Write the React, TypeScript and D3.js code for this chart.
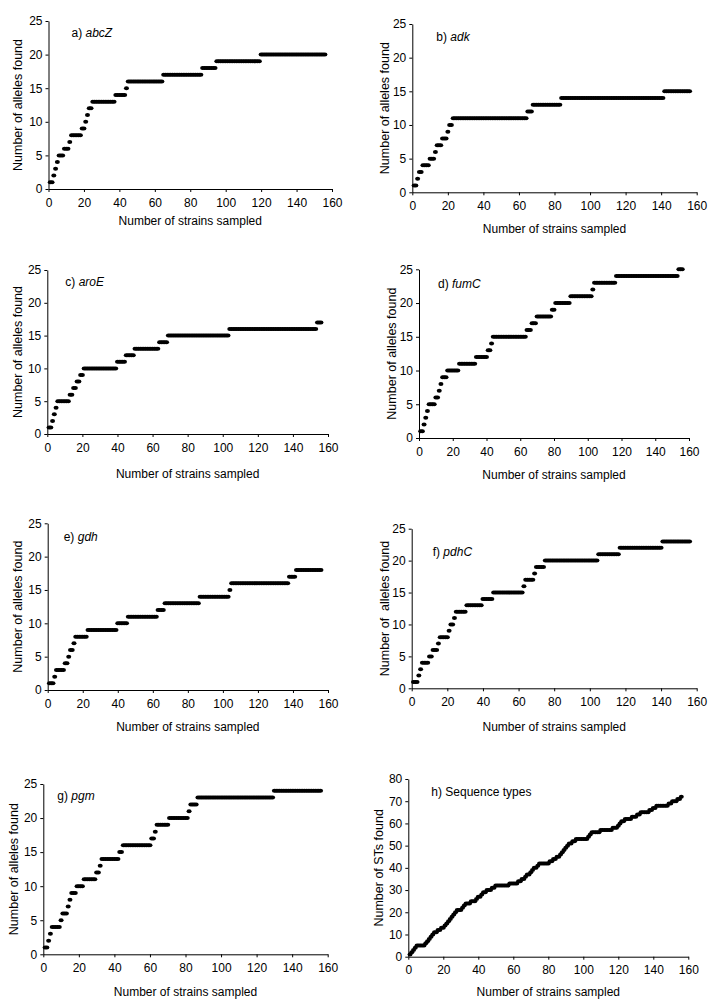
import React, { useEffect, useRef } from "react";
import * as d3 from "d3";

const W = 715, H = 1008;
const nStrains = 156;
const strainTicks = [0, 20, 40, 60, 80, 100, 120, 140, 160];
const alleleTicks = [0, 5, 10, 15, 20, 25];
const stTicks = [0, 10, 20, 30, 40, 50, 60, 70, 80];

// strain number at which allele (or ST) no. 1, 2, 3 ... was first found
const abcZ = [1, 3, 4, 5, 6, 9, 12, 13, 19, 21, 22, 23, 25, 38, 44, 45, 65, 87, 95, 120];
const adk = [1, 3, 4, 6, 10, 13, 14, 17, 20, 21, 23, 65, 68, 84, 142];
const aroE = [1, 3, 4, 5, 6, 13, 15, 17, 19, 21, 40, 45, 50, 64, 69, 104, 154];
const fumC = [1, 3, 4, 5, 6, 10, 12, 13, 14, 17, 24, 34, 41, 43, 44, 64, 67, 70, 79, 81, 90, 103, 104, 117, 154];
const gdh = [1, 4, 5, 10, 12, 13, 15, 16, 23, 40, 46, 63, 67, 87, 104, 105, 138, 142];
const pdhC = [1, 4, 5, 6, 10, 12, 15, 16, 21, 22, 24, 25, 31, 40, 46, 63, 64, 69, 70, 75, 105, 117, 141];
const pgm = [1, 3, 4, 5, 10, 11, 14, 15, 16, 19, 23, 30, 32, 33, 43, 45, 61, 63, 64, 71, 82, 83, 87, 130];
const sequenceTypes = [
  1, 2, 3, 4, 5, 10, 11, 12, 13, 14, 15, 17, 19, 21, 22, 23, 24, 25, 26, 27,
  28, 31, 32, 33, 36, 39, 40, 42, 43, 45, 48, 50, 58, 63, 65, 67, 68, 70, 71, 72,
  74, 75, 81, 83, 85, 87, 88, 89, 90, 91, 92, 94, 96, 103, 104, 105, 110, 117, 120, 121,
  122, 124, 128, 131, 133, 138, 140, 142, 149, 151, 154, 156,
];

const panels = [
  { tag: "a)", name: "abcZ", italic: true, firsts: abcZ, yMax: 25, yTicks: alleleTicks, yTitle: "Number of alleles found" },
  { tag: "b)", name: "adk", italic: true, firsts: adk, yMax: 25, yTicks: alleleTicks, yTitle: "Number of alleles found" },
  { tag: "c)", name: "aroE", italic: true, firsts: aroE, yMax: 25, yTicks: alleleTicks, yTitle: "Number of alleles found" },
  { tag: "d)", name: "fumC", italic: true, firsts: fumC, yMax: 25, yTicks: alleleTicks, yTitle: "Number of alleles found" },
  { tag: "e)", name: "gdh", italic: true, firsts: gdh, yMax: 25, yTicks: alleleTicks, yTitle: "Number of alleles found" },
  { tag: "f)", name: "pdhC", italic: true, firsts: pdhC, yMax: 25, yTicks: alleleTicks, yTitle: "Number of  alleles found" },
  { tag: "g)", name: "pgm", italic: true, firsts: pgm, yMax: 25, yTicks: alleleTicks, yTitle: "Number of alleles found" },
  { tag: "h)", name: "Sequence types", italic: false, firsts: sequenceTypes, yMax: 80, yTicks: stTicks, yTitle: "Number of STs found" },
];

// pixel frame of each panel: axis left/right, bottom/top, y-title x, x-title y, label offset
const frames = [
  { x0: 48.5, x1: 332, y0: 189, y1: 21, yt: 18, xt: 221, lx: 23, ly: 12 },
  { x0: 412.3, x1: 696.7, y0: 192.3, y1: 24, yt: 385, xt: 229, lx: 24, ly: 13 },
  { x0: 47.3, x1: 328, y0: 434, y1: 270, yt: 18, xt: 474, lx: 18, ly: 12 },
  { x0: 419, x1: 689, y0: 438, y1: 269.3, yt: 391.7, xt: 475, lx: 19, ly: 14 },
  { x0: 47.7, x1: 328, y0: 690, y1: 523.3, yt: 18, xt: 727, lx: 16, ly: 13 },
  { x0: 411.7, x1: 696.7, y0: 688.3, y1: 528.7, yt: 385, xt: 727, lx: 21, ly: 23 },
  { x0: 43.3, x1: 327.7, y0: 954.3, y1: 784, yt: 13.3, xt: 991.7, lx: 14, ly: 12 },
  { x0: 408.3, x1: 688.3, y0: 956.7, y1: 779, yt: 378.3, xt: 991.7, lx: 23, ly: 13 },
];

const font = "'Liberation Sans', Arial, sans-serif";

export default function App() {
  const ref = useRef<SVGSVGElement>(null);

  useEffect(() => {
    const svg = d3.select(ref.current);
    svg.selectAll("*").remove();

    panels.forEach((p, i) => {
      const f = frames[i];
      const g = svg.append("g");
      const x = d3.scaleLinear().domain([0, 160]).range([f.x0, f.x1]);
      const y = d3.scaleLinear().domain([0, p.yMax]).range([f.y0, f.y1]);

      const strains = d3.range(1, nStrains + 1);
      const counts = strains.map((s) => ({ s, n: p.firsts.filter((v) => v <= s).length }));

      g.selectAll("ellipse").data(counts).join("ellipse")
        .attr("cx", (d) => x(d.s)).attr("cy", (d) => y(d.n))
        .attr("rx", 2.5).attr("ry", 2).attr("fill", "#000");

      const xAxis = g.append("g").attr("transform", `translate(0,${f.y0})`)
        .call(d3.axisBottom(x).tickValues(strainTicks).tickSize(3).tickSizeOuter(0).tickPadding(6));
      const yAxis = g.append("g").attr("transform", `translate(${f.x0},0)`)
        .call(d3.axisLeft(y).tickValues(p.yTicks).tickSize(3).tickSizeOuter(0).tickPadding(3));
      [xAxis, yAxis].forEach((a) => {
        a.selectAll("text").attr("font-family", font).attr("font-size", 12).attr("fill", "#000");
        a.selectAll("path,line").attr("stroke", "#000").attr("stroke-width", 1);
      });

      g.append("text").attr("x", (f.x0 + f.x1) / 2).attr("y", f.xt).attr("dy", "0.35em")
        .attr("text-anchor", "middle").attr("font-family", font).attr("font-size", 12)
        .text("Number of strains sampled");

      g.append("text").attr("transform", `translate(${f.yt},${(f.y0 + f.y1) / 2}) rotate(-90)`)
        .attr("dy", "0.35em").attr("text-anchor", "middle").attr("font-family", font)
        .attr("font-size", 12.5).style("white-space", "pre").text(p.yTitle);

      const label = g.append("text").attr("x", f.x0 + f.lx).attr("y", f.y1 + f.ly).attr("dy", "0.35em")
        .attr("font-family", font).attr("font-size", 12);
      label.append("tspan").text(p.tag + " ");
      label.append("tspan").attr("font-style", p.italic ? "italic" : "normal").text(p.name);
    });
  }, []);

  return (
    <svg ref={ref} width={W} height={H}
      style={{ position: "absolute", left: 0, top: 0, background: "#fff" }} />
  );
}
